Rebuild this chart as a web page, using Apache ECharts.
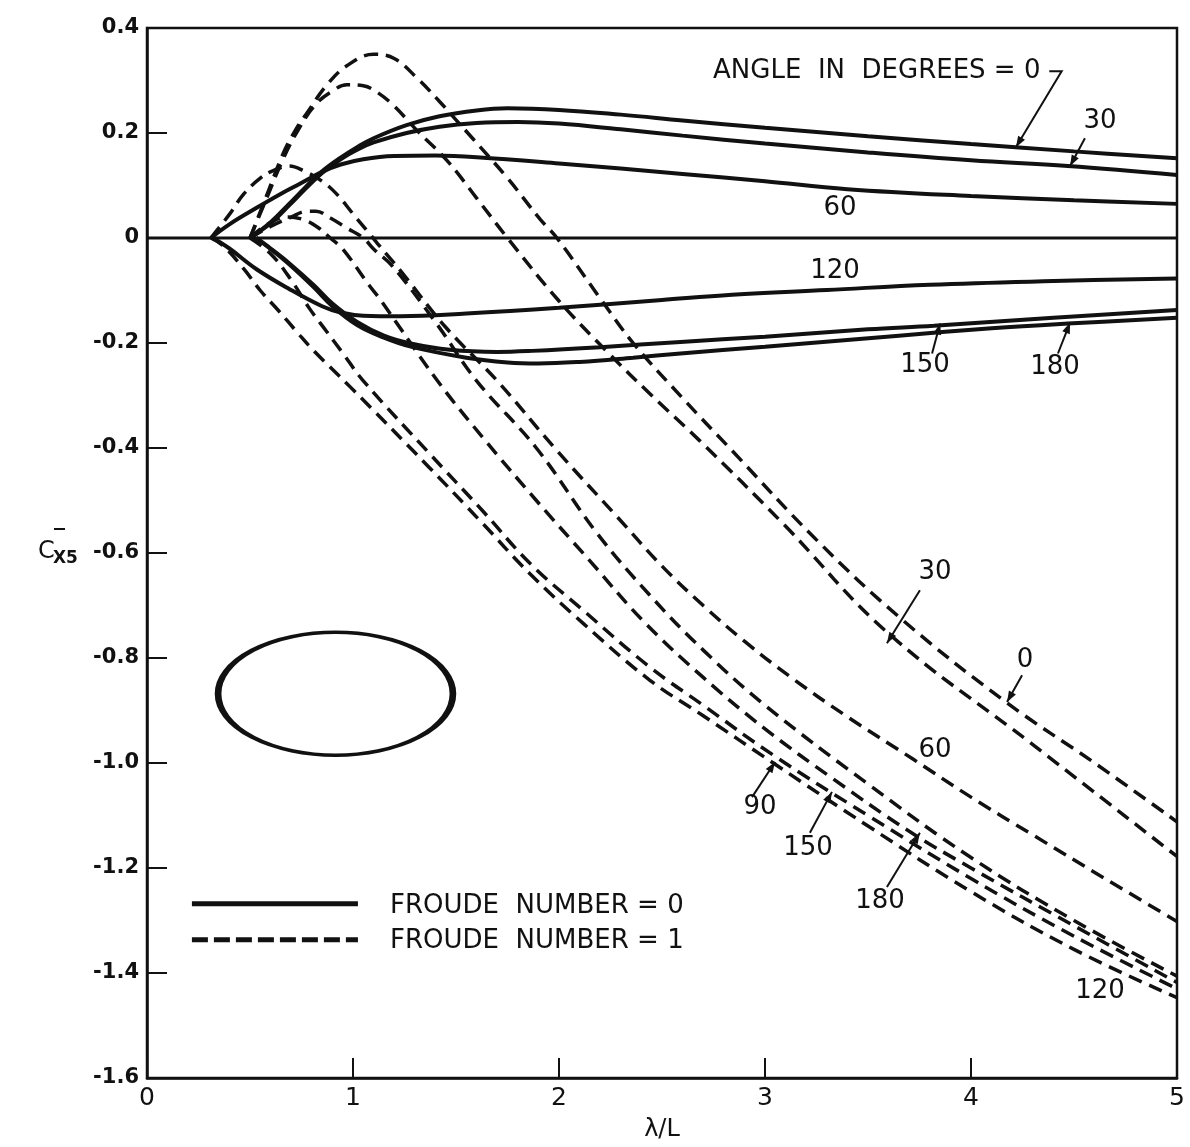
<!DOCTYPE html>
<html>
<head>
<meta charset="utf-8">
<script src="https://cdn.jsdelivr.net/npm/echarts@6/dist/echarts.min.js"></script>
<style>
  html, body { margin: 0; background: #fff; }
  #chart { width: 1190px; height: 1147px; }
</style>
</head>
<body>
<div id="chart"></div>
<script>
// x = lambda/L, y = C_x5
// Froude number = 0 (solid)
const solid0 = [[0.5,0],[0.6,0.03],[0.69,0.065],[0.77,0.097],[0.85,0.127],[0.94,0.153],[1.02,0.173],[1.1,0.19],[1.26,0.215],[1.42,0.232],[1.6,0.243],[1.75,0.247],[2.0,0.244],[2.3,0.235],[2.6,0.224],[3.0,0.21],[3.5,0.194],[4.0,0.179],[4.5,0.165],[5.0,0.152]];
const solid30 = [[0.5,0],[0.6,0.028],[0.69,0.062],[0.77,0.094],[0.85,0.124],[0.94,0.15],[1.02,0.168],[1.1,0.182],[1.26,0.2],[1.42,0.212],[1.6,0.219],[1.8,0.221],[2.0,0.218],[2.3,0.207],[2.6,0.195],[3.0,0.18],[3.5,0.163],[4.0,0.148],[4.47,0.137],[5.0,0.12]];
const solid60 = [[0.31,0],[0.4,0.026],[0.53,0.057],[0.64,0.082],[0.74,0.103],[0.85,0.126],[0.94,0.14],[1.05,0.15],[1.2,0.156],[1.4,0.157],[1.6,0.154],[2.0,0.142],[2.6,0.122],[3.0,0.108],[3.4,0.093],[4.0,0.08],[4.5,0.072],[5.0,0.065]];
const solid120 = [[0.32,0],[0.4,-0.02],[0.53,-0.059],[0.69,-0.097],[0.85,-0.13],[0.94,-0.142],[1.05,-0.148],[1.23,-0.149],[1.55,-0.144],[2.0,-0.133],[2.5,-0.118],[2.84,-0.108],[3.3,-0.099],[3.8,-0.089],[4.4,-0.082],[5.0,-0.077]];
const solid150 = [[0.53,0],[0.6,-0.02],[0.69,-0.048],[0.81,-0.09],[0.9,-0.125],[1.02,-0.16],[1.15,-0.186],[1.28,-0.201],[1.47,-0.213],[1.7,-0.217],[1.87,-0.215],[2.2,-0.208],[2.59,-0.198],[3.0,-0.188],[3.5,-0.174],[3.82,-0.167],[4.4,-0.152],[5.0,-0.137]];
const solid180 = [[0.53,0],[0.6,-0.021],[0.69,-0.05],[0.81,-0.094],[0.9,-0.13],[1.02,-0.166],[1.15,-0.19],[1.28,-0.207],[1.55,-0.228],[1.75,-0.237],[1.9,-0.239],[2.1,-0.236],[2.36,-0.228],[2.59,-0.22],[3.0,-0.207],[3.65,-0.186],[4.1,-0.172],[4.47,-0.163],[5.0,-0.152]];
const zeroLine = [[0,0],[5,0]];

// Froude number = 1 (dashed)
const dash0 = [[0.5,0],[0.58,0.08],[0.66,0.16],[0.72,0.205],[0.78,0.24],[0.87,0.29],[0.97,0.328],[1.1,0.35],[1.2,0.342],[1.31,0.305],[1.42,0.26],[1.5,0.225],[1.58,0.19],[1.75,0.114],[1.91,0.035],[1.99,0],[2.2,-0.115],[2.36,-0.2],[2.6,-0.305],[2.84,-0.405],[3.25,-0.575],[3.66,-0.725],[4.17,-0.884],[4.6,-1.0],[5.0,-1.112]];
const dash30 = [[0.5,0],[0.58,0.075],[0.66,0.15],[0.74,0.21],[0.82,0.255],[0.9,0.28],[0.97,0.292],[1.05,0.29],[1.1,0.282],[1.19,0.255],[1.31,0.205],[1.46,0.146],[1.6,0.076],[1.75,0],[2.0,-0.12],[2.23,-0.215],[2.45,-0.3],[2.68,-0.385],[3.09,-0.545],[3.59,-0.75],[4.3,-0.965],[5.0,-1.178]];
const dash60 = [[0.31,0],[0.4,0.045],[0.47,0.084],[0.55,0.114],[0.61,0.128],[0.69,0.137],[0.76,0.128],[0.85,0.108],[0.92,0.084],[1.0,0.046],[1.07,0.013],[1.12,-0.011],[1.24,-0.067],[1.45,-0.17],[1.7,-0.272],[1.99,-0.405],[2.28,-0.53],[2.5,-0.625],[2.7,-0.7],[2.9,-0.768],[3.12,-0.835],[3.4,-0.912],[3.72,-0.993],[4.0,-1.065],[4.3,-1.137],[4.65,-1.22],[5.0,-1.302]];
const dash90 = [[0.5,0],[0.6,-0.03],[0.7,-0.08],[0.79,-0.135],[0.87,-0.177],[0.95,-0.219],[1.05,-0.272],[1.37,-0.41],[1.63,-0.52],[1.86,-0.62],[2.12,-0.71],[2.44,-0.817],[2.7,-0.89],[3.04,-0.985],[3.5,-1.1],[4.0,-1.22],[4.5,-1.33],[5.0,-1.43]];
const dash120 = [[0.31,0],[0.37,-0.015],[0.47,-0.059],[0.55,-0.1],[0.64,-0.139],[0.73,-0.18],[0.81,-0.215],[0.99,-0.285],[1.37,-0.437],[1.63,-0.544],[1.86,-0.64],[2.12,-0.735],[2.44,-0.842],[2.7,-0.91],[3.04,-1.0],[3.5,-1.12],[4.0,-1.245],[4.5,-1.355],[5.0,-1.447]];
const dash150 = [[0.5,0],[0.58,0.025],[0.68,0.04],[0.76,0.035],[0.83,0.02],[0.89,0],[0.95,-0.021],[1.08,-0.091],[1.13,-0.116],[1.41,-0.272],[1.63,-0.38],[1.89,-0.5],[2.15,-0.615],[2.41,-0.73],[2.7,-0.837],[3.0,-0.935],[3.33,-1.03],[3.7,-1.13],[4.0,-1.2],[4.5,-1.31],[5.0,-1.418]];
const dash180 = [[0.5,0],[0.6,0.022],[0.69,0.038],[0.78,0.051],[0.82,0.051],[0.89,0.038],[0.97,0.019],[1.05,0],[1.1,-0.021],[1.19,-0.053],[1.4,-0.16],[1.6,-0.272],[1.89,-0.4],[2.18,-0.56],[2.44,-0.68],[2.7,-0.785],[3.0,-0.89],[3.5,-1.04],[4.0,-1.18],[4.5,-1.3],[5.0,-1.406]];

// ship waterplane sketch: centre and half-axes in data units
const ellipseCentre = [0.915, -0.868];
const ellipseHalf = [0.57, 0.117];

// curve labels: text, position (data units), optional leader line
const curveLabels = [
  { text: 'ANGLE  IN  DEGREES = 0', at: [2.748, 0.3175], align: 'left', hook: [[4.38, 0.3175], [4.44, 0.3175], [4.218, 0.173]] },
  { text: '30', at: [4.626, 0.222], hook: [[4.553, 0.19], [4.481, 0.137]] },
  { text: '60', at: [3.364, 0.057] },
  { text: '120', at: [3.34, -0.063] },
  { text: '150', at: [3.777, -0.243], hook: [[3.811, -0.22], [3.85, -0.163]] },
  { text: '180', at: [4.408, -0.247], hook: [[4.422, -0.22], [4.481, -0.161]] },
  { text: '30', at: [3.825, -0.637], hook: [[3.752, -0.671], [3.592, -0.772]] },
  { text: '0', at: [4.262, -0.804], hook: [[4.248, -0.833], [4.175, -0.884]] },
  { text: '60', at: [3.825, -0.975] },
  { text: '90', at: [2.976, -1.084], hook: [[2.937, -1.065], [3.049, -0.998]] },
  { text: '150', at: [3.209, -1.163], hook: [[3.218, -1.133], [3.325, -1.055]] },
  { text: '180', at: [3.558, -1.264], hook: [[3.592, -1.236], [3.752, -1.133]] },
  { text: '120', at: [4.626, -1.435] }
];

// legend (data units)
const legendRows = [
  { text: 'FROUDE  NUMBER = 0', from: [0.218, -1.268], to: [1.024, -1.268], textAt: [1.18, -1.272], dashed: false },
  { text: 'FROUDE  NUMBER = 1', from: [0.218, -1.3365], to: [1.024, -1.3365], textAt: [1.18, -1.34], dashed: true }
];

const INK = '#111';
const FONT = '"DejaVu Sans", sans-serif';
const solidStyle = { color: INK, width: 4 };
const dashStyle = { color: INK, width: 3.5, type: [14, 8] };

function curve(name, data, dashed) {
  return {
    name: name,
    type: 'line',
    data: data,
    showSymbol: false,
    smooth: 0.4,
    silent: true,
    lineStyle: dashed ? dashStyle : solidStyle,
    z: dashed ? 2 : 3
  };
}

const chart = echarts.init(document.getElementById('chart'));

chart.setOption({
  animation: false,
  backgroundColor: '#fff',
  grid: { left: 147, right: 13, top: 28, bottom: 67, show: true, borderColor: INK, borderWidth: 2.5 },
  xAxis: {
    type: 'value', min: 0, max: 5, interval: 1,
    name: 'λ/L', nameLocation: 'middle', nameGap: 40,
    nameTextStyle: { color: INK, fontFamily: FONT, fontSize: 24 },
    axisLine: { onZero: false, lineStyle: { color: INK, width: 2.5 } },
    axisTick: { inside: true, length: 20, lineStyle: { color: INK, width: 2 } },
    axisLabel: { color: INK, fontFamily: FONT, fontSize: 25, margin: 8 },
    splitLine: { show: false }
  },
  yAxis: {
    type: 'value', min: -1.6, max: 0.4, interval: 0.2,
    axisLine: { onZero: false, lineStyle: { color: INK, width: 2.5 } },
    axisTick: { inside: true, length: 20, lineStyle: { color: INK, width: 2 } },
    axisLabel: {
      color: INK, fontFamily: FONT, fontSize: 21, fontWeight: 'bold', margin: 8,
      formatter: v => Math.abs(v) < 1e-9 ? '0' : v.toFixed(1)
    },
    splitLine: { show: false }
  },
  series: [
    { name: 'zero', type: 'line', data: zeroLine, showSymbol: false, silent: true, lineStyle: { color: INK, width: 3 }, z: 1 },
    curve('Fn0 0°', solid0, false),
    curve('Fn0 30°', solid30, false),
    curve('Fn0 60°', solid60, false),
    curve('Fn0 120°', solid120, false),
    curve('Fn0 150°', solid150, false),
    curve('Fn0 180°', solid180, false),
    curve('Fn1 0°', dash0, true),
    curve('Fn1 30°', dash30, true),
    curve('Fn1 60°', dash60, true),
    curve('Fn1 90°', dash90, true),
    curve('Fn1 120°', dash120, true),
    curve('Fn1 150°', dash150, true),
    curve('Fn1 180°', dash180, true)
  ]
});

const toPx = p => chart.convertToPixel({ gridIndex: 0 }, p);

function textEl(str, pos, size, align) {
  return {
    type: 'text', x: pos[0], y: pos[1], silent: true,
    style: { text: str, font: size + 'px ' + FONT, fill: INK,
      align: align, textAlign: align, verticalAlign: 'middle', textVerticalAlign: 'middle' }
  };
}

function arrowHead(a, b) {
  const dx = b[0] - a[0], dy = b[1] - a[1];
  const len = Math.sqrt(dx * dx + dy * dy);
  const ux = dx / len, uy = dy / len;
  const L = 11, W = 4;
  const base = [b[0] - ux * L, b[1] - uy * L];
  return {
    type: 'polygon', silent: true,
    shape: { points: [b, [base[0] - uy * W, base[1] + ux * W], [base[0] + uy * W, base[1] - ux * W]] },
    style: { fill: INK }
  };
}

const graphics = [];

curveLabels.forEach(l => {
  graphics.push(textEl(l.text, toPx(l.at), 26, l.align || 'center'));
  if (l.hook) {
    const pts = l.hook.map(toPx);
    graphics.push({ type: 'polyline', silent: true, shape: { points: pts }, style: { stroke: INK, lineWidth: 2, fill: null } });
    graphics.push(arrowHead(pts[pts.length - 2], pts[pts.length - 1]));
  }
});

legendRows.forEach(r => {
  const a = toPx(r.from), b = toPx(r.to);
  graphics.push({
    type: 'line', silent: true,
    shape: { x1: a[0], y1: a[1], x2: b[0], y2: b[1] },
    style: { stroke: INK, lineWidth: 5, lineDash: r.dashed ? [16, 6] : null }
  });
  graphics.push(textEl(r.text, toPx(r.textAt), 26, 'left'));
});

// ellipse
const c = toPx(ellipseCentre);
const ex = toPx([ellipseCentre[0] + ellipseHalf[0], ellipseCentre[1]]);
const ey = toPx([ellipseCentre[0], ellipseCentre[1] + ellipseHalf[1]]);
const rx = Math.abs(ex[0] - c[0]), ry = Math.abs(c[1] - ey[1]);
graphics.push({
  type: 'circle', silent: true, x: c[0], y: c[1], scaleX: rx / ry, scaleY: 1,
  shape: { cx: 0, cy: 0, r: ry },
  style: { fill: null, stroke: INK, lineWidth: 3.5, strokeNoScale: true }
});

// y-axis title: C with overbar, subscript X5
graphics.push({
  type: 'text', x: 38, y: 540, silent: true,
  style: { text: 'C', font: '24px ' + FONT, fill: INK }
});
graphics.push({
  type: 'text', x: 54, y: 527, silent: true,
  style: { text: '‾', font: 'bold 22px ' + FONT, fill: INK }
});
graphics.push({
  type: 'text', x: 53, y: 550, silent: true,
  style: { text: 'X5', font: 'bold 17px ' + FONT, fill: INK }
});

chart.setOption({ graphic: graphics });
</script>
</body>
</html>
